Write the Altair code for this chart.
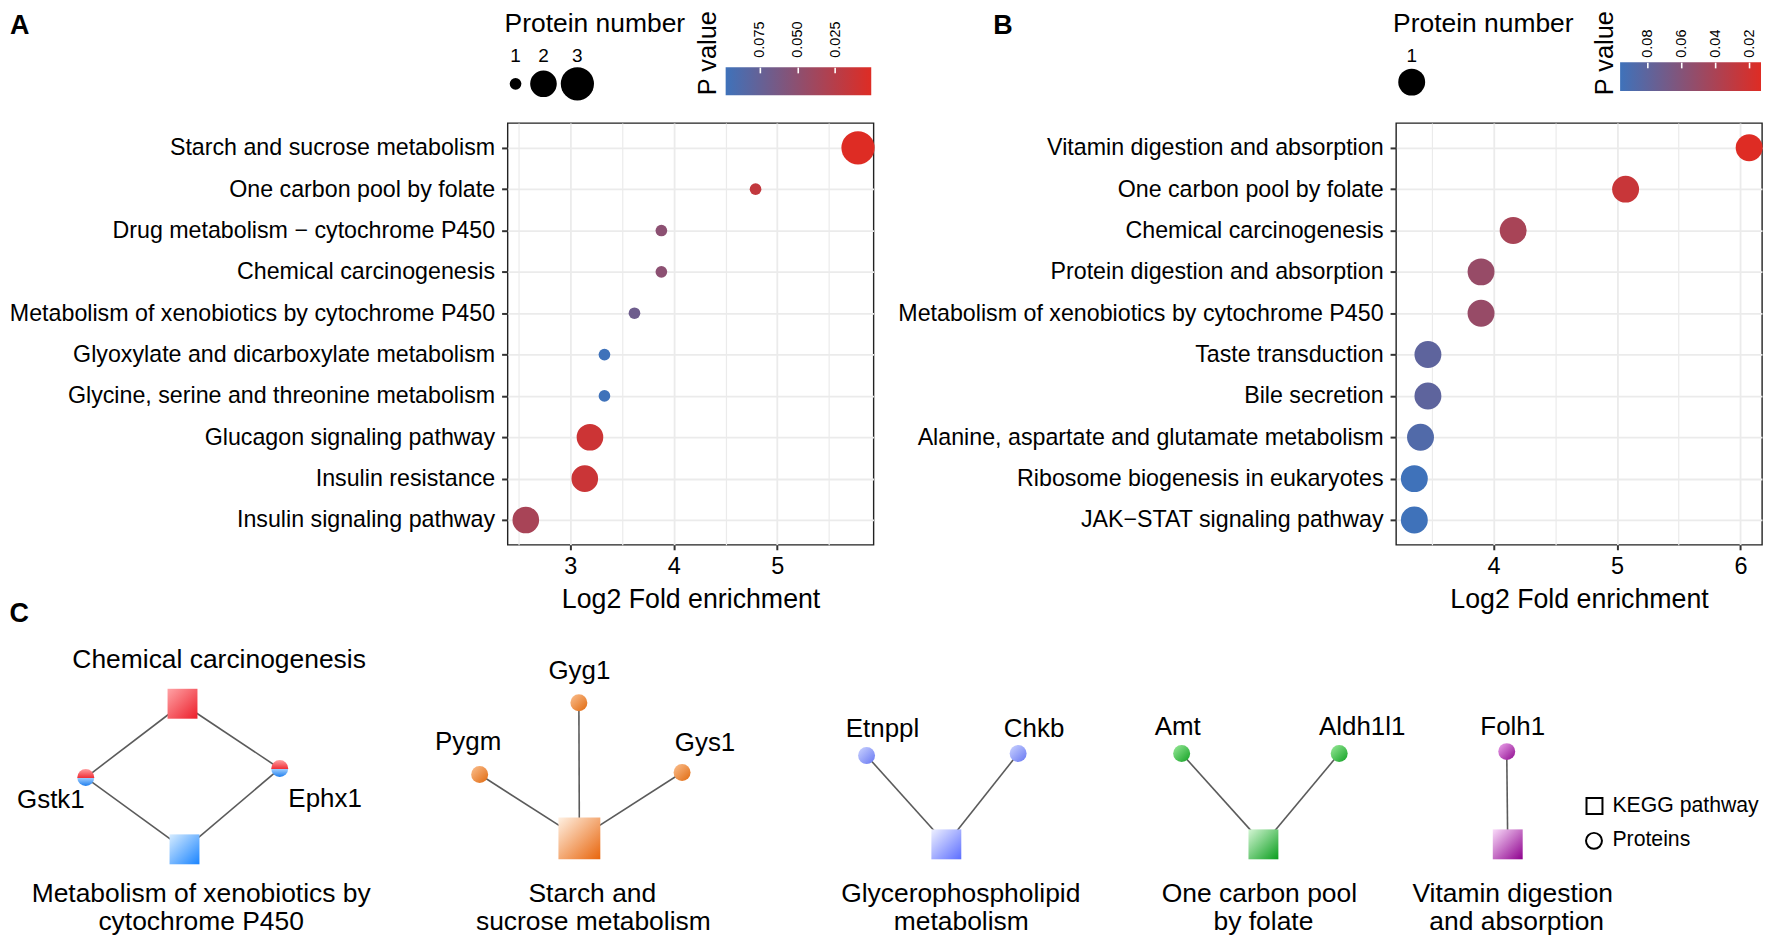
import altair as alt
import pandas as pd

FONT = "Liberation Sans"
RED = "#DE2C24"
BLUE = "#3F72BA"
INK = "#000000"

# ---------------- Panel A data ----------------
A_pathways = [
    "Starch and sucrose metabolism",
    "One carbon pool by folate",
    "Drug metabolism \u2212 cytochrome P450",
    "Chemical carcinogenesis",
    "Metabolism of xenobiotics by cytochrome P450",
    "Glyoxylate and dicarboxylate metabolism",
    "Glycine, serine and threonine metabolism",
    "Glucagon signaling pathway",
    "Insulin resistance",
    "Insulin signaling pathway",
]
A_fold = [5.78, 4.79, 3.88, 3.88, 3.62, 3.33, 3.33, 3.19, 3.14, 2.57]
A_count = [3, 1, 1, 1, 1, 1, 1, 2, 2, 2]
A_pvalue = [0.001, 0.018, 0.051, 0.051, 0.069, 0.0977, 0.0977, 0.012, 0.013, 0.034]
A_grid = [2.5, 3, 3.5, 4, 4.5, 5, 5.5]
A_size_levels = [1, 2, 3]
A_cbar_ticks = [0.075, 0.050, 0.025]

# ---------------- Panel B data ----------------
B_pathways = [
    "Vitamin digestion and absorption",
    "One carbon pool by folate",
    "Chemical carcinogenesis",
    "Protein digestion and absorption",
    "Metabolism of xenobiotics by cytochrome P450",
    "Taste transduction",
    "Bile secretion",
    "Alanine, aspartate and glutamate metabolism",
    "Ribosome biogenesis in eukaryotes",
    "JAK\u2212STAT signaling pathway",
]
B_fold = [6.07, 5.07, 4.16, 3.90, 3.90, 3.47, 3.47, 3.41, 3.36, 3.36]
B_count = [1, 1, 1, 1, 1, 1, 1, 1, 1, 1]
B_pvalue = [0.0131, 0.0247, 0.0414, 0.050, 0.050, 0.080, 0.080, 0.087, 0.0962, 0.0962]
B_grid = [3.5, 4, 4.5, 5, 5.5, 6]
B_size_levels = [1]
B_cbar_ticks = [0.08, 0.06, 0.04, 0.02]

# ---------------- Panel C network data ----------------
C_pathways = [
    "Chemical carcinogenesis",
    "Metabolism of xenobiotics by cytochrome P450",
    "Starch and sucrose metabolism",
    "Glycerophospholipid metabolism",
    "One carbon pool by folate",
    "Vitamin digestion and absorption",
]
C_pathway_lines = [
    ["Chemical carcinogenesis"],
    ["Metabolism of xenobiotics by", "cytochrome P450"],
    ["Starch and", "sucrose metabolism"],
    ["Glycerophospholipid", "metabolism"],
    ["One carbon pool", "by folate"],
    ["Vitamin digestion", "and absorption"],
]
C_proteins = ["Gstk1", "Ephx1", "Pygm", "Gyg1", "Gys1", "Etnppl", "Chkb", "Amt", "Aldh1l1", "Folh1"]
C_edges = [
    ("Chemical carcinogenesis", "Gstk1"),
    ("Chemical carcinogenesis", "Ephx1"),
    ("Metabolism of xenobiotics by cytochrome P450", "Gstk1"),
    ("Metabolism of xenobiotics by cytochrome P450", "Ephx1"),
    ("Starch and sucrose metabolism", "Pygm"),
    ("Starch and sucrose metabolism", "Gyg1"),
    ("Starch and sucrose metabolism", "Gys1"),
    ("Glycerophospholipid metabolism", "Etnppl"),
    ("Glycerophospholipid metabolism", "Chkb"),
    ("One carbon pool by folate", "Amt"),
    ("One carbon pool by folate", "Aldh1l1"),
    ("Vitamin digestion and absorption", "Folh1"),
]

# ---------------- layout (network drawing positions, page px) ----------------
C_node_xy = {
    "Chemical carcinogenesis": (182, 702),
    "Metabolism of xenobiotics by cytochrome P450": (184, 848),
    "Starch and sucrose metabolism": (580, 837),
    "Glycerophospholipid metabolism": (948, 843),
    "One carbon pool by folate": (1266, 843),
    "Vitamin digestion and absorption": (1511, 843),
    "Gstk1": (85, 776), "Ephx1": (279.5, 767), "Pygm": (480, 773),
    "Gyg1": (579.5, 701), "Gys1": (683, 771), "Etnppl": (868, 754),
    "Chkb": (1020, 752), "Amt": (1184, 752), "Aldh1l1": (1342, 752),
    "Folh1": (1510, 750),
}
C_protein_label_xy = {
    "Gstk1": (50, 799), "Ephx1": (325, 798), "Pygm": (468.5, 740),
    "Gyg1": (580, 669), "Gys1": (706, 741), "Etnppl": (884, 727),
    "Chkb": (1036, 727), "Amt": (1180, 725), "Aldh1l1": (1365, 725),
    "Folh1": (1516, 725),
}
C_pathway_label_xy = [
    [(218.7, 658)],
    [(200.7, 892.5), (200.7, 921)],
    [(593, 892.5), (594, 921)],
    [(962.5, 892.5), (963, 921)],
    [(1262, 892.5), (1266, 921)],
    [(1516, 892.5), (1520, 921)],
]
C_square_side = {
    "Chemical carcinogenesis": 30,
    "Metabolism of xenobiotics by cytochrome P450": 30,
    "Starch and sucrose metabolism": 42,
    "Glycerophospholipid metabolism": 30,
    "One carbon pool by folate": 30,
    "Vitamin digestion and absorption": 30,
}
C_square_colors = {
    "Chemical carcinogenesis": ("#FFA3A6", "#EC1E2A"),
    "Metabolism of xenobiotics by cytochrome P450": ("#D6ECFF", "#1A84FF"),
    "Starch and sucrose metabolism": ("#FFF1E3", "#E8650C"),
    "Glycerophospholipid metabolism": ("#EEF0FF", "#5C6EFF"),
    "One carbon pool by folate": ("#D4F6D4", "#0A9E1E"),
    "Vitamin digestion and absorption": ("#FADCFA", "#8E008E"),
}
C_protein_colors = {
    "Pygm": ("#FBC090", "#E0690E"), "Gyg1": ("#FBC090", "#E0690E"), "Gys1": ("#FBC090", "#E0690E"),
    "Etnppl": ("#CCD4FF", "#6676F2"), "Chkb": ("#CCD4FF", "#6676F2"),
    "Amt": ("#9AEA9A", "#10A022"), "Aldh1l1": ("#9AEA9A", "#10A022"),
    "Folh1": ("#EDA6ED", "#8E0A8E"),
}
C_split_proteins = ["Gstk1", "Ephx1"]
C_legend_items = [("KEGG pathway", "square", (1598, 804.5), (1616, 805)),
                  ("Proteins", "circle", (1597.5, 839.5), (1616, 839))]

# page x of the plot origins (concat columns align on the plot origin)
ORIGIN_A = 508
ORIGIN_B = 1396

# ---------------- helpers ----------------
MAJOR = "datum.value % 1 === 0"


def cond(test, yes, no):
    return {"condition": {"test": test, "value": yes}, "value": no}


def grad(c0, c1, x2=1, y2=1):
    return alt.LinearGradient(
        gradient="linear",
        stops=[alt.GradientStop(color=c0, offset=0), alt.GradientStop(color=c1, offset=1)],
        x1=0, y1=0, x2=x2, y2=y2,
    )


def dot_plot(pathways, fold, count, pvalue, xdom, grid_vals, size_scale, extra=()):
    df = pd.DataFrame({"pathway": pathways, "fold": fold, "count": count, "p": pvalue})
    xaxis = alt.Axis(
        values=grid_vals, format=".0f",
        labelExpr=f"{MAJOR} ? datum.label : ''",
        title="Log2 Fold enrichment",
        titleFontSize=26.8, titleFontWeight="normal", titleColor=INK, titlePadding=4.5,
        labelFontSize=23.5, labelColor=INK, labelPadding=4.5, labelFlush=False, labelOverlap=False,
        tickSize=5, tickWidth=2, tickColor="#333333", tickOpacity=cond(MAJOR, 1, 0),
        grid=True, gridColor="#EBEBEB", gridWidth=cond(MAJOR, 1.8, 1.2),
        domain=False, minExtent=37, maxExtent=37,
    )
    yaxis = alt.Axis(
        title=None, labelFontSize=23.3, labelColor=INK, labelPadding=7, labelLimit=1000,
        labelOverlap=False, tickSize=6, tickWidth=2, tickColor="#333333", domain=False,
        grid=True, gridColor="#EBEBEB", gridWidth=1.8, minExtent=500, maxExtent=500,
    )
    pmin, pmax = min(pvalue), max(pvalue)
    pts = alt.Chart(df).mark_circle(opacity=1).encode(
        x=alt.X("fold:Q", scale=alt.Scale(domain=xdom, nice=False, zero=False), axis=xaxis),
        y=alt.Y("pathway:N", sort=pathways, scale=alt.Scale(type="point", padding=0.6), axis=yaxis),
        size=alt.Size("count:Q", scale=size_scale, legend=None),
        color=alt.Color("p:Q", scale=alt.Scale(domain=[pmin, pmax], range=[RED, BLUE], interpolate="rgb"),
                        legend=None),
    )
    return alt.layer(pts, *extra).properties(
        width=367, height=423,
        view=alt.ViewBackground(fill="white", stroke="#222222", strokeWidth=1.4),
    )


def legend_panel(letter, letter_x, letter_y, levels, lev_dom, lev_rng, size_scale, dot_y, lab_y,
                 pt_title_x, pvalue, bar_rng, bar_y, bar_y2, ticks, fmt, axis_y, lab_pad,
                 pv_x, pv_y):
    pmin, pmax = min(pvalue), max(pvalue)
    layers = []
    layers.append(
        alt.Chart(pd.DataFrame({"t": [letter]})).mark_text(
            font=FONT, fontSize=27, fontWeight="bold", align="left", baseline="middle", color=INK
        ).encode(text="t:N", x=alt.value(letter_x), y=alt.value(letter_y))
    )
    layers.append(
        alt.Chart(pd.DataFrame({"t": ["Protein number"]})).mark_text(
            font=FONT, fontSize=26.5, align="left", baseline="middle", color=INK
        ).encode(text="t:N", x=alt.value(pt_title_x), y=alt.value(13.5))
    )
    lev_df = pd.DataFrame({"n": levels})
    xs = alt.Scale(domain=lev_dom, range=lev_rng, nice=False, zero=False)
    layers.append(
        alt.Chart(lev_df).mark_circle(color="black", opacity=1).encode(
            x=alt.X("n:Q", scale=xs, axis=None), y=alt.value(dot_y),
            size=alt.Size("n:Q", scale=size_scale, legend=None),
        )
    )
    layers.append(
        alt.Chart(lev_df).mark_text(font=FONT, fontSize=19, baseline="middle", align="center", color=INK).encode(
            x=alt.X("n:Q", scale=xs, axis=None), y=alt.value(lab_y), text="n:Q"
        )
    )
    bar_df = pd.DataFrame({"hi": [pmax], "lo": [pmin]})
    layers.append(
        alt.Chart(bar_df).mark_rect(color=grad(BLUE, RED, x2=1, y2=0)).encode(
            x=alt.X(
                "hi:Q",
                scale=alt.Scale(domain=[pmax, pmin], range=bar_rng, nice=False, zero=False),
                axis=alt.Axis(
                    orient="top", values=ticks, format=fmt, labelAngle=270, labelAlign="left",
                    labelBaseline="middle", labelFontSize=14.5, labelColor=INK, labelPadding=lab_pad,
                    labelFlush=False, labelOverlap=False,
                    tickSize=5.7, tickColor="white", tickWidth=1.6, domain=False, grid=False,
                    offset=-axis_y, zindex=1,
                    title="P value", titleAngle=270, titleX=pv_x, titleY=pv_y, titleAlign="center",
                    titleBaseline="middle", titleFontSize=25.5, titleFontWeight="normal", titleColor=INK,
                ),
            ),
            x2="lo:Q", y=alt.value(bar_y), y2=alt.value(bar_y2),
        )
    )
    return alt.layer(*layers).resolve_scale(x="independent").properties(
        width=367, height=112, view=alt.ViewBackground(fill="white", strokeWidth=0)
    )


# ---------------- Panel A ----------------
A_size_scale = alt.Scale(domain=[1, 2, 3], range=[137, 713, 1109])
letterC = alt.Chart(pd.DataFrame({"t": ["C"]})).mark_text(
    font=FONT, fontSize=27, fontWeight="bold", align="left", baseline="middle", color=INK
).encode(text="t:N", x=alt.value(-499.5), y=alt.value(492.1))
plotA = dot_plot(A_pathways, A_fold, A_count, A_pvalue, [2.394, 5.93], A_grid, A_size_scale, extra=(letterC,))
oa = ORIGIN_A
legendA = legend_panel(
    "A", 9 - oa, 15.6, A_size_levels, [1, 2, 3], [516 - oa, 544 - oa, 578 - oa], A_size_scale, 73.7, 46.1,
    505 - oa, A_pvalue, [726.7 - oa, 872.7 - oa], 57, 85.3, A_cbar_ticks, ".3f", 62.7, 10,
    708.2 - oa, -20.2,
)

# ---------------- Panel B ----------------
B_size_scale = alt.Scale(domain=[0, 1], range=[0, 729])
plotB = dot_plot(B_pathways, B_fold, B_count, B_pvalue, [3.212, 6.174], B_grid, B_size_scale)
ob = ORIGIN_B
legendB = legend_panel(
    "B", 992 - ob, 16.2, B_size_levels, [1, 2], [1411.7 - ob, 1496 - ob], B_size_scale, 72, 46.1,
    1393 - ob, B_pvalue, [1620.7 - ob, 1762 - ob], 52, 81, B_cbar_ticks, ".2f", 57.7, 5,
    1605.5 - ob, -15.2,
)

# ---------------- Panel C ----------------
C_TOP = 625.6
C_H = 300
CX = alt.Scale(domain=[8, 1764], range=[8 - oa, 1764 - oa], nice=False, zero=False)
CY = alt.Scale(domain=[C_TOP, C_TOP + C_H], range=[0, C_H], nice=False, zero=False)


def pos(fx="x", fy="y"):
    return dict(x=alt.X(f"{fx}:Q", scale=CX, axis=None), y=alt.Y(f"{fy}:Q", scale=CY, axis=None))


edge_df = pd.DataFrame([
    {"x": C_node_xy[a][0], "y": C_node_xy[a][1], "x2": C_node_xy[b][0], "y2": C_node_xy[b][1]}
    for a, b in C_edges
])
c_layers = [
    alt.Chart(edge_df).mark_rule(color="#5B5B5B", strokeWidth=1.6).encode(
        **pos(), x2="x2:Q", y2="y2:Q"
    )
]
for pw in C_pathways:
    c0, c1 = C_square_colors[pw]
    side = C_square_side[pw]
    d = pd.DataFrame([{"x": C_node_xy[pw][0], "y": C_node_xy[pw][1]}])
    c_layers.append(alt.Chart(d).mark_square(color=grad(c0, c1), size=side * side, opacity=1).encode(**pos()))
for pr in C_proteins:
    d = pd.DataFrame([{"x": C_node_xy[pr][0], "y": C_node_xy[pr][1]}])
    if pr in C_split_proteins:
        g = alt.LinearGradient(
            gradient="linear",
            stops=[alt.GradientStop(color="#FF9EA0", offset=0), alt.GradientStop(color="#F0343C", offset=0.5),
                   alt.GradientStop(color="#A6D2FF", offset=0.5), alt.GradientStop(color="#1E7EEE", offset=1)],
            x1=0, y1=0, x2=0, y2=1,
        )
    else:
        g = grad(*C_protein_colors[pr])
    c_layers.append(alt.Chart(d).mark_circle(color=g, size=289, opacity=1).encode(**pos()))

plab_df = pd.DataFrame([
    {"t": pr, "x": C_protein_label_xy[pr][0], "y": C_protein_label_xy[pr][1]} for pr in C_proteins
])
c_layers.append(
    alt.Chart(plab_df).mark_text(font=FONT, fontSize=26, align="center", baseline="middle", color=INK).encode(
        **pos(), text="t:N"
    )
)
pwl_rows = []
for lines, xys in zip(C_pathway_lines, C_pathway_label_xy):
    for ln, (x, y) in zip(lines, xys):
        pwl_rows.append({"t": ln, "x": x, "y": y})
c_layers.append(
    alt.Chart(pd.DataFrame(pwl_rows)).mark_text(
        font=FONT, fontSize=26.5, align="center", baseline="middle", color=INK
    ).encode(**pos(), text="t:N")
)
for name, shape, (sx, sy), (tx, ty) in C_legend_items:
    d = pd.DataFrame([{"x": sx, "y": sy, "tx": tx, "ty": ty, "t": name}])
    if shape == "square":
        m = alt.Chart(d).mark_square(filled=False, color="black", strokeWidth=2, size=256, opacity=1)
    else:
        m = alt.Chart(d).mark_point(shape="circle", filled=False, color="black", strokeWidth=2, size=256,
                                    opacity=1)
    c_layers.append(m.encode(**pos()))
    c_layers.append(
        alt.Chart(d).mark_text(font=FONT, fontSize=21.3, align="left", baseline="middle", color=INK).encode(
            **pos("tx", "ty"), text="t:N"
        )
    )
panelC = alt.layer(*c_layers).properties(
    width=1764 - oa, height=C_H, view=alt.ViewBackground(fill="white", strokeWidth=0)
)

# ---------------- assemble ----------------
panelA = alt.vconcat(legendA, plotA, spacing=0)
panelB = alt.vconcat(legendB, plotB, spacing=0)
top = alt.hconcat(panelA, panelB, spacing=21).resolve_scale(size="independent", color="independent")
chart = (
    alt.vconcat(top, panelC, spacing=0)
    .resolve_scale(size="independent", color="independent")
    .properties(padding=0, background="white")
    .configure(font=FONT)
    .configure_view(strokeWidth=0)
)
chart.save("out.html", embed_options={"renderer": "svg", "actions": False})
